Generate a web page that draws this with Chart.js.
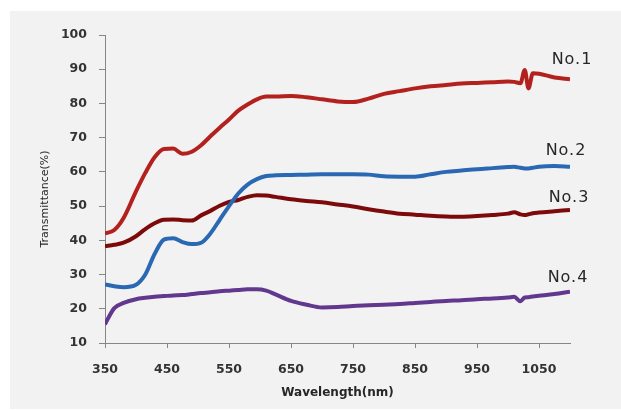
<!DOCTYPE html>
<html lang="en">

<head>
  <meta charset="utf-8">
  <title>Transmittance</title>
  <style>
    body { margin: 0; background: #fff; }
    #chart { display: block; }
  </style>
</head>

<body>
  <canvas id="chart" width="621" height="410"></canvas>

  <script src="https://cdn.jsdelivr.net/npm/chart.js"></script>
  <script>
    // wavelength (nm) sample points shared by all curves
    const wavelength = [350, 365, 380, 400, 415, 430, 445, 460, 475, 490, 505, 520, 535, 550, 565, 580, 595, 610, 625,
      650, 675, 700, 725, 750, 775, 800, 825, 850, 875, 900, 925, 950, 975, 1000, 1010, 1020, 1027, 1033, 1040, 1050,
      1075, 1100];

    const no1 = [42.0, 43.0, 46.5, 54.3, 59.7, 64.3, 66.7, 66.8, 65.3, 65.9, 67.8, 70.4, 72.9, 75.3, 77.9, 79.7, 81.2,
      82.0, 82.0, 82.2, 81.8, 81.2, 80.6, 80.4, 81.4, 82.8, 83.6, 84.4, 85.0, 85.4, 85.8, 86.0, 86.2, 86.4, 86.3, 85.9,
      89.8, 84.4, 88.8, 88.7, 87.6, 87.1];
    const no2 = [27.1, 26.6, 26.3, 27.0, 30.0, 36.0, 40.2, 40.6, 39.5, 38.9, 39.3, 42.0, 46.0, 50.0, 53.7, 56.3, 57.9,
      58.8, 59.0, 59.1, 59.2, 59.3, 59.3, 59.3, 59.2, 58.7, 58.6, 58.6, 59.3, 60.0, 60.4, 60.8, 61.1, 61.4, 61.5, 61.2,
      61.0, 61.0, 61.2, 61.5, 61.7, 61.5];
    const no3 = [38.3, 38.7, 39.3, 41.2, 43.3, 45.0, 46.0, 46.1, 45.9, 45.8, 47.3, 48.6, 50.1, 51.2, 51.8, 52.7, 53.2,
      53.1, 52.7, 52.0, 51.5, 51.1, 50.5, 49.9, 49.1, 48.4, 47.8, 47.5, 47.2, 47.0, 46.9, 47.1, 47.4, 47.8, 48.2, 47.6,
      47.4, 47.6, 47.9, 48.1, 48.5, 48.9];
    const no4 = [15.5, 20.2, 21.7, 22.8, 23.2, 23.5, 23.7, 23.9, 24.0, 24.3, 24.6, 24.8, 25.1, 25.3, 25.5, 25.7, 25.7,
      25.3, 24.2, 22.3, 21.2, 20.4, 20.5, 20.8, 21.0, 21.2, 21.4, 21.7, 22.0, 22.3, 22.5, 22.8, 23.0, 23.3, 23.5, 22.2,
      23.3, 23.4, 23.6, 23.8, 24.3, 25.0];

    const seriesNames = ["No.1", "No.2", "No.3", "No.4"];
    const xTicks = [350, 450, 550, 650, 750, 850, 950, 1050];

    const series = [no1, no2, no3, no4];
    const colors = ["#b3211f", "#2b68b3", "#7d0a0a", "#62388f"];
    // where each name sits relative to the end of its curve (px)
    const nameOffsets = [[2, -19], [-4, -16], [-1, -12], [-2, -14]];

    const panel = {
      id: "panel",
      beforeDraw(chart) {
        const ctx = chart.ctx;
        ctx.save();
        ctx.fillStyle = "#f2f2f2";
        ctx.fillRect(10, 11, chart.width - 10, chart.height - 12);
        ctx.restore();
      },
      afterDraw(chart) {
        const ctx = chart.ctx;
        ctx.save();
        // y axis title
        ctx.fillStyle = "#262626";
        ctx.font = "11px 'DejaVu Sans'";
        ctx.textAlign = "center";
        ctx.textBaseline = "middle";
        ctx.translate(45, 199);
        ctx.rotate(-Math.PI / 2);
        ctx.fillText("Transmittance(%)", 0, 0);
        ctx.restore();

        // curve names next to the line ends
        ctx.save();
        ctx.fillStyle = "#262626";
        ctx.font = "16px 'DejaVu Sans'";
        ctx.letterSpacing = "1px";
        ctx.textAlign = "center";
        ctx.textBaseline = "middle";
        chart.data.datasets.forEach((ds, i) => {
          const pts = chart.getDatasetMeta(i).data;
          const last = pts[pts.length - 1];
          ctx.fillText(ds.label, last.x + nameOffsets[i][0], last.y + nameOffsets[i][1]);
        });
        ctx.restore();
      }
    };

    new Chart(document.getElementById("chart"), {
      type: "line",
      data: {
        datasets: series.map((s, i) => ({
          label: seriesNames[i],
          data: wavelength.map((w, k) => ({ x: w, y: s[k] })),
          borderColor: colors[i],
          backgroundColor: colors[i],
          borderWidth: 4,
          pointRadius: 0,
          cubicInterpolationMode: "monotone",
          fill: false
        }))
      },
      options: {
        responsive: false,
        animation: false,
        devicePixelRatio: 1,
        layout: { padding: { left: 0, top: 35, right: 51, bottom: 0 } },
        plugins: {
          legend: { display: false },
          tooltip: { enabled: false }
        },
        scales: {
          x: {
            type: "linear",
            min: 350,
            max: 1100,
            afterBuildTicks: (scale) => { scale.ticks = xTicks.map(v => ({ value: v })); },
            afterFit: (scale) => { scale.height = 67; },
            grid: { drawOnChartArea: false, drawTicks: true, tickLength: 5, color: "#868686" },
            border: { color: "#868686", width: 1 },
            ticks: {
              color: "#333",
              padding: 14,
              maxRotation: 0,
              callback: (v) => String(v),
              font: { family: "'DejaVu Sans'", size: 12.5, weight: "bold" }
            },
            title: {
              display: true,
              text: "Wavelength(nm)",
              color: "#262626",
              font: { family: "'DejaVu Sans'", size: 12, weight: "bold" },
              padding: { top: 0, bottom: 10 }
            }
          },
          y: {
            min: 10,
            max: 100,
            afterFit: (scale) => { scale.width = 105; },
            grid: { drawOnChartArea: false, drawTicks: true, tickLength: 6, color: "#868686" },
            border: { color: "#868686", width: 1 },
            ticks: {
              stepSize: 10,
              color: "#333",
              padding: 12,
              font: { family: "'DejaVu Sans'", size: 12.5, weight: "bold" }
            }
          }
        }
      },
      plugins: [panel]
    });
  </script>
</body>

</html>
